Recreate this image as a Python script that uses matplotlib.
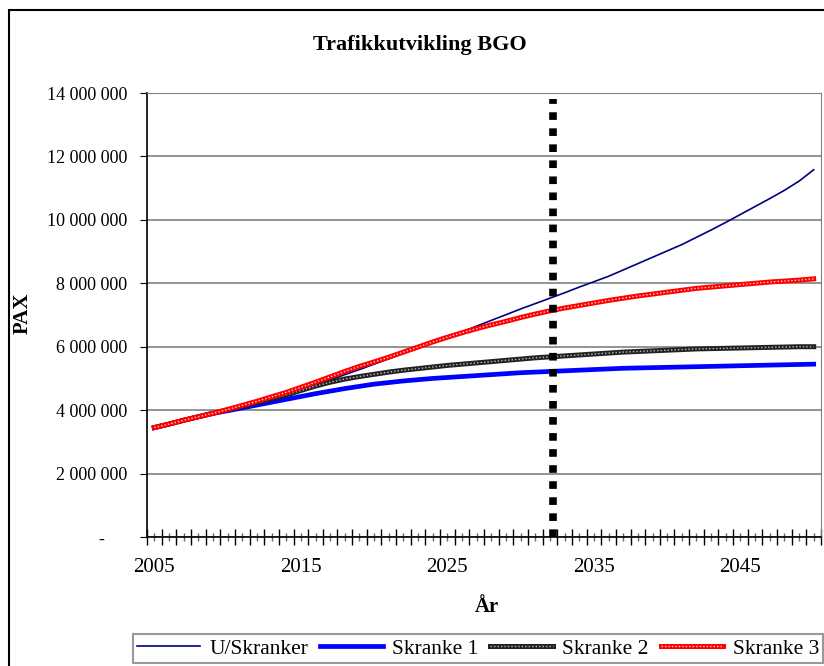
import numpy as np
import matplotlib
matplotlib.use("Agg")
import matplotlib.pyplot as plt
from matplotlib.patches import Rectangle
from matplotlib.legend_handler import HandlerTuple
from matplotlib.ticker import FuncFormatter, FixedLocator

# data (millions of PAX), one value per year 2005-2050
years = list(range(2005, 2051))
early = [3.45, 3.56, 3.68, 3.79, 3.90]
u_skranker = early + [4.01, 4.13, 4.25, 4.37, 4.49, 4.62, 4.78, 4.95, 5.12, 5.28,
                      5.45, 5.62, 5.79, 5.96, 6.13, 6.30, 6.47, 6.65, 6.83, 7.01,
                      7.19, 7.36, 7.53, 7.70, 7.88, 8.05, 8.22, 8.42, 8.62, 8.82,
                      9.02, 9.22, 9.45, 9.68, 9.92, 10.17, 10.42, 10.67, 10.93, 11.22,
                      11.58]
skranke1 = early + [3.98, 4.07, 4.16, 4.25, 4.34, 4.43, 4.52, 4.60, 4.68, 4.75,
                    4.82, 4.87, 4.92, 4.96, 5.00, 5.03, 5.06, 5.09, 5.12, 5.15,
                    5.18, 5.20, 5.22, 5.24, 5.26, 5.28, 5.30, 5.32, 5.33, 5.34,
                    5.35, 5.36, 5.37, 5.38, 5.39, 5.40, 5.41, 5.42, 5.43, 5.44,
                    5.45]
skranke2 = early + [4.01, 4.12, 4.24, 4.36, 4.48, 4.62, 4.76, 4.88, 4.98, 5.06,
                    5.13, 5.20, 5.26, 5.31, 5.36, 5.41, 5.45, 5.49, 5.53, 5.57,
                    5.61, 5.65, 5.68, 5.71, 5.74, 5.77, 5.80, 5.83, 5.85, 5.87,
                    5.89, 5.91, 5.93, 5.94, 5.95, 5.96, 5.97, 5.98, 5.99, 6.00,
                    6.00]
skranke3 = early + [4.02, 4.15, 4.28, 4.42, 4.56, 4.72, 4.88, 5.05, 5.22, 5.38,
                    5.52, 5.67, 5.83, 5.99, 6.15, 6.30, 6.44, 6.57, 6.69, 6.80,
                    6.92, 7.03, 7.13, 7.22, 7.30, 7.38, 7.46, 7.53, 7.60, 7.66,
                    7.72, 7.78, 7.84, 7.88, 7.92, 7.96, 8.00, 8.04, 8.07, 8.10,
                    8.14]
cap_year = 2032.2
cap_top = 13.8
labels = ["U/Skranker", "Skranke 1", "Skranke 2", "Skranke 3"]

plt.rcParams['font.family'] = ['Liberation Serif', 'DejaVu Serif']

W, H = 824, 666
fig = plt.figure(figsize=(W / 100, H / 100), dpi=100)
fig.patches.append(Rectangle((9 / W, -0.1), 1.2, 1.1 - 10 / H, transform=fig.transFigure,
                             fill=False, edgecolor='black', linewidth=1.5))

ax = fig.add_axes([147 / W, 1 - 537 / H, (821 - 147) / W, (537 - 93) / H])

x = np.arange(len(years))
scale = 1e6
l0, = ax.plot(x, np.array(u_skranker) * scale, color='#000080', lw=1.2, zorder=3)
l1, = ax.plot(x, np.array(skranke1) * scale, color='#0000ff', lw=3.4, zorder=3)
l2a, = ax.plot(x, np.array(skranke2) * scale, color='#222222', lw=3.6, zorder=3)
l2b, = ax.plot(x, np.array(skranke2) * scale, color='#bbbbbb', lw=1.0,
               linestyle=(0, (1, 1.5)), zorder=3)
l3a, = ax.plot(x, np.array(skranke3) * scale, color='#ff0000', lw=3.6, zorder=4)
l3b, = ax.plot(x, np.array(skranke3) * scale, color='#ffd0d0', lw=1.0,
               linestyle=(0, (1, 1.5)), zorder=4)

cx = years.index(int(cap_year)) + (cap_year - int(cap_year))
ax.plot([cx, cx], [0, cap_top * scale], color='black', lw=5.5,
        linestyle=(0, (1, 1.1)), solid_capstyle='butt', dash_capstyle='butt', zorder=5)

ax.set_xlim(-0.5, len(years) - 0.5)
ax.set_ylim(0, 14e6)
ax.set_yticks(np.arange(0, 14e6 + 1, 2e6))
ax.yaxis.set_major_formatter(FuncFormatter(
    lambda v, p: "-     " if v == 0 else f"{int(v):,}".replace(",", " ")))
ax.tick_params(axis='y', labelsize=13, length=5, direction='out', pad=9)
ax.grid(axis='y', color='#808080', lw=1.2)

ax.xaxis.set_major_locator(FixedLocator(np.arange(-0.5, len(years), 1.0)))
ax.xaxis.set_minor_locator(FixedLocator(np.arange(0, len(years), 1.0)))
ax.set_xticklabels([])
ax.tick_params(axis='x', which='major', direction='inout', length=11, width=1)
ax.tick_params(axis='x', which='minor', direction='inout', length=6, width=1, color='#666666')
for i, yr in enumerate(years):
    if (yr - 2005) % 10 == 0:
        ax.text(i, -0.068, str(yr), transform=ax.get_xaxis_transform(),
                ha='center', va='center', fontsize=15)

for s in ['top', 'right']:
    ax.spines[s].set_color('#808080')
for s in ['left', 'bottom']:
    ax.spines[s].set_color('black')
    ax.spines[s].set_linewidth(1.2)

fig.text(420 / W, 1 - 45 / H, "Trafikkutvikling BGO", ha='center', va='center',
         fontsize=16, fontweight='bold')
fig.text(23 / W, 1 - 313 / H, "PAX", ha='center', va='center', rotation=90,
         fontsize=15, fontweight='bold')
fig.text(487 / W, 1 - 607 / H, "År", ha='center', va='center',
         fontsize=15, fontweight='bold')

leg = fig.legend([l0, l1, (l2a, l2b), (l3a, l3b)], labels, ncol=4,
                 loc='lower left', bbox_to_anchor=(133 / W, 3 / H),
                 handler_map={tuple: HandlerTuple(ndivide=1)},
                 fancybox=False, frameon=True, edgecolor='#808080', fontsize=15.5,
                 handlelength=2.9, handletextpad=0.45, columnspacing=0.55,
                 borderpad=0.2, borderaxespad=0)
leg.get_frame().set_linewidth(1.5)

fig.savefig("out.png", dpi=100)
